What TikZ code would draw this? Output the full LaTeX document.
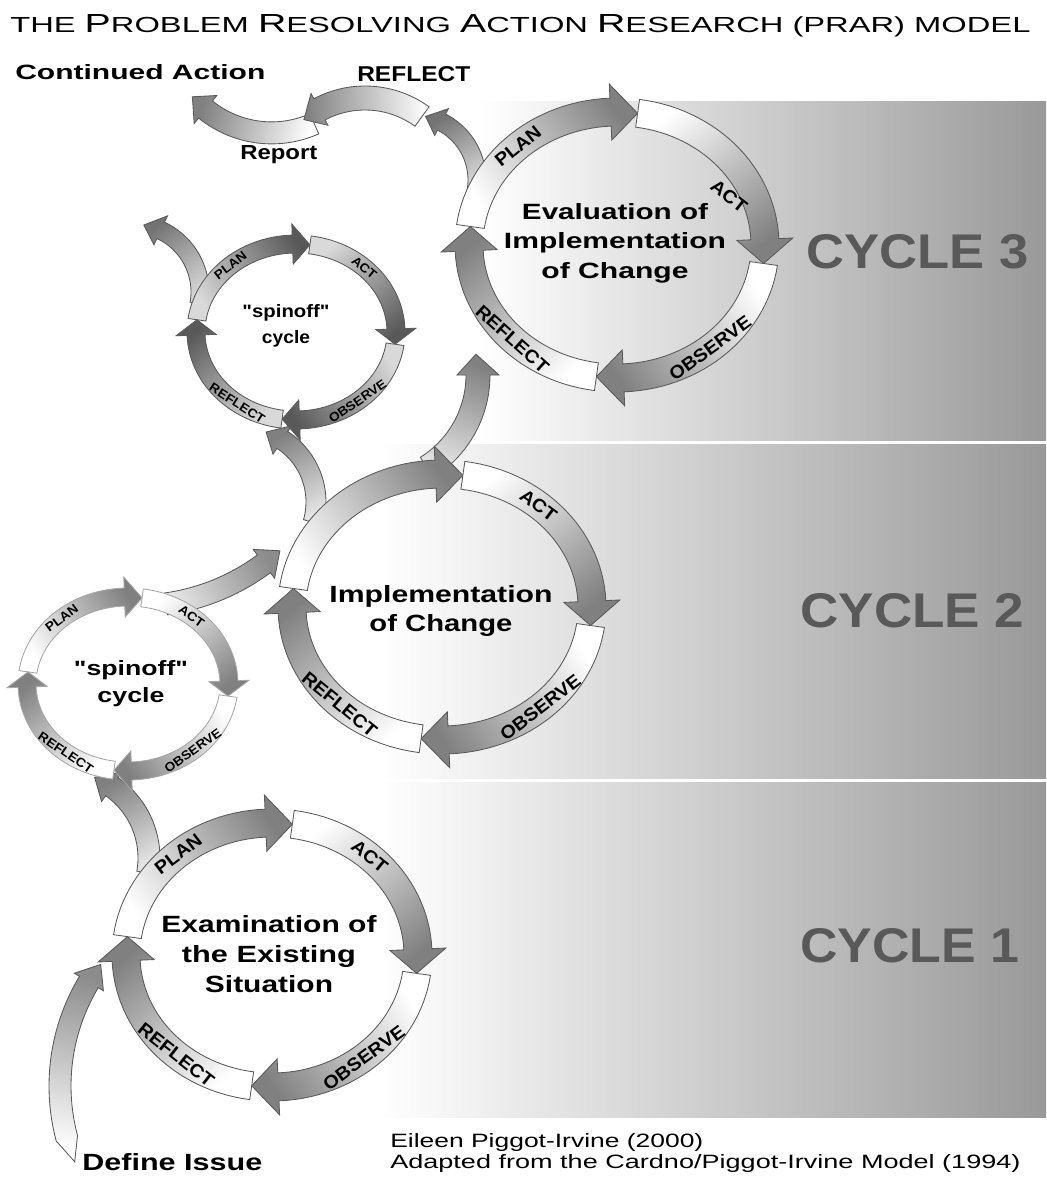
\documentclass[tikz,border=0pt]{standalone}
\usepackage{fontspec}
\setmainfont{Liberation Sans}[Ligatures=TeXOff]
\usepackage{graphicx}
\newlength\px
\setlength\px{0.7113pt}
\newcommand\fitline[3]{\resizebox{#1\px}{#2\px}{#3}}
\newcommand\bigc[1]{{\fontsize{18pt}{18pt}\selectfont #1}}
\def\bw{14}\def\hw{28}\def\hl{10.5}\def\edgecol{black!65}
\newcommand\ringarrow[9]{%
  \pgfmathsetmacro\sgn{(#6>#5)*2-1}%
  \pgfmathsetmacro\ae{#6-(\sgn)*\hl}%
  \pgfmathsetmacro\at{#5-(\sgn)*#7}%
  \pgfmathsetmacro\sa{atan2(-(#4)*(sin(#6)-sin(#5)),(#3)*(cos(#6)-cos(#5)))+90}%
  \shade[draw=\edgecol, line width=.6pt, top color=#8, bottom color=#9, shading angle=\sa]
    plot[domain=#5:\ae, samples=30] ({#1+(#3+\bw)*cos(\x)},{#2+(#4+\bw)*sin(\x)})
    -- ({#1+(#3+\hw)*cos(\ae)},{#2+(#4+\hw)*sin(\ae)})
    -- ({#1+#3*cos(#6)},{#2+#4*sin(#6)})
    -- ({#1+(#3-\hw)*cos(\ae)},{#2+(#4-\hw)*sin(\ae)})
    -- plot[domain=\ae:#5, samples=30] ({#1+(#3-\bw)*cos(\x)},{#2+(#4-\bw)*sin(\x)})
    -- ({#1+#3*cos(\at)},{#2+#4*sin(\at)}) -- cycle;}
\newcommand\fullcycle[6]{%
  \ringarrow{#1}{#2}{#3}{#4}{188}{278}{0}{#5}{#6}%
  \ringarrow{#1}{#2}{#3}{#4}{278}{368}{0}{#5}{#6}%
  \ringarrow{#1}{#2}{#3}{#4}{368}{458}{0}{#5}{#6}%
  \ringarrow{#1}{#2}{#3}{#4}{458}{548}{0}{#5}{#6}}
\newcommand\arclabel[7]{%
  \pgfmathsetmacro\rot{atan2(-(#4)*cos(#5),-(#3)*sin(#5))}%
  \pgfmathsetmacro\rot{\rot>90 ? \rot-180 : (\rot<-90 ? \rot+180 : \rot)}%
  \node[seglabel, rotate=\rot] (#7) at ({#1+#3*cos(#5)},{#2+#4*sin(#5)}) {\scalebox{1.08}[1]{#6}};}
\begin{document}
\begin{tikzpicture}[x=0.025cm, y=-0.025cm,
  seglabel/.style={inner sep=0, font=\fontsize{13pt}{13pt}\selectfont\bfseries},
  centretext/.style={anchor=north, inner sep=0, align=center},
  cyclename/.style={anchor=base west, inner sep=0, text=black!65, font=\bfseries},
  plain/.style={anchor=base west, inner sep=0}]
\useasboundingbox[fill=white] (0,0) rectangle (1046,1181);
\shade[left color=white, right color=black!40] (480,102) rectangle (1046,440);
\shade[left color=white, right color=black!40] (380,444) rectangle (1046,778);
\shade[left color=white, right color=black!40] (380,782) rectangle (1046,1117);

\def\bw{11}\def\hw{17}\def\hl{6}\ringarrow{262}{1086}{202}{202}{165}{217}{7}{white}{black!45}
\def\bw{11}\def\hw{18}\def\hl{13}\ringarrow{62}{858}{87}{87}{10}{-68}{0}{black!10}{black!50}
\def\bw{11}\def\hw{18}\def\hl{5.5}\ringarrow{136}{391}{215}{215}{82}{48}{0}{black!10}{black!45}
\def\bw{10}\def\hw{17}\def\hl{14}\ringarrow{242}{502}{74}{74}{16}{-71}{0}{black!10}{black!50}
\def\bw{12}\def\hw{21}\def\hl{11}\ringarrow{369}{375}{109}{109}{58}{-11}{0}{black!10}{black!50}
\def\bw{9}\def\hw{16}\def\hl{15}\ringarrow{132}{292}{68}{68}{10}{-80}{0}{black!15}{black!55}
\def\bw{9}\def\hw{15}\def\hl{15}\ringarrow{412}{180}{65}{65}{18}{-78}{0}{black!10}{black!55}
\def\bw{11}\def\hw{18}\def\hl{10}\ringarrow{271.6}{27.9}{105}{105}{66}{139}{0}{white}{black!50}
\def\bw{12}\def\hw{18}\def\hl{11}\ringarrow{365}{195}{97}{97}{306}{231}{0}{white}{black!50}

\def\bw{14}\def\hw{28}\def\hl{10.5}
\fullcycle{272}{955}{146}{132}{white}{black!50}
\fullcycle{442}{607}{150}{133}{white}{black!50}
\fullcycle{617}{245}{148}{133}{white}{black!50}
\def\bw{9}\def\hw{20}\def\hl{10}
\fullcycle{296}{332}{100}{88}{black!15}{black!65}
\def\edgecol{black!35}
\fullcycle{128}{684}{101}{87}{white}{black!50}

\arclabel{272}{955}{146}{132}{230}{PLAN}{plana}
\arclabel{272}{955}{146}{132}{312}{ACT}{acta}
\arclabel{272}{955}{146}{132}{411}{OBSERVE}{observea}
\arclabel{272}{955}{146}{132}{491}{REFLECT}{reflecta}
\arclabel{442}{607}{150}{133}{310}{ACT}{actb}
\arclabel{442}{607}{150}{133}{409}{OBSERVE}{observeb}
\arclabel{442}{607}{150}{133}{493}{REFLECT}{reflectb}
\arclabel{617}{245}{148}{133}{228}{PLAN}{planc}
\node[seglabel, rotate=-38] (actc) at (729,196) {\scalebox{1.08}[1]{ACT}};
\arclabel{617}{245}{148}{133}{411}{OBSERVE}{observec}
\arclabel{617}{245}{148}{133}{495}{REFLECT}{reflectc}
\begin{scope}[seglabel/.append style={font=\fontsize{9pt}{9pt}\selectfont\bfseries}]
\arclabel{296}{332}{100}{88}{229}{PLAN}{planup}
\arclabel{296}{332}{100}{88}{313}{ACT}{actup}
\arclabel{296}{332}{100}{88}{412}{OBSERVE}{observeup}
\arclabel{296}{332}{100}{88}{486}{REFLECT}{reflectup}
\arclabel{128}{684}{101}{87}{229}{PLAN}{planlow}
\arclabel{128}{684}{101}{87}{309}{ACT}{actlow}
\arclabel{128}{684}{101}{87}{410}{OBSERVE}{observelow}
\arclabel{128}{684}{101}{87}{488}{REFLECT}{reflectlow}
\end{scope}

\node[centretext, font=\fontsize{17pt}{21.3pt}\selectfont\bfseries] (examine) at (269,915)
  {\fitline{215}{17}{Examination of}\\\fitline{174}{17}{the Existing}\\\fitline{128}{17}{Situation}};
\node[centretext, font=\fontsize{17pt}{20.6pt}\selectfont\bfseries] (implement) at (441,585)
  {\fitline{223}{17}{Implementation}\\\fitline{143}{17}{of Change}};
\node[centretext, font=\fontsize{16pt}{21pt}\selectfont\bfseries] (evaluate) at (615,203)
  {\fitline{186}{16}{Evaluation of}\\\fitline{222}{16}{Implementation}\\\fitline{147}{16}{of Change}};
\node[centretext, font=\fontsize{13pt}{18.5pt}\selectfont\bfseries] (spinup) at (286,304)
  {\fitline{87}{13}{"spinoff"}\\\fitline{48}{13}{cycle}};
\node[centretext, font=\fontsize{15pt}{19.2pt}\selectfont\bfseries] (spinlow) at (131,660)
  {\fitline{114}{15}{"spinoff"}\\\fitline{67}{15}{cycle}};

\node[cyclename] (cyclec) at (806,269) {\fitline{222}{34}{CYCLE 3}};
\node[cyclename] (cycleb) at (800,627) {\fitline{224}{34}{CYCLE 2}};
\node[cyclename] (cyclea) at (800,962) {\fitline{219}{34}{CYCLE 1}};

\node[plain, font=\fontsize{15pt}{15pt}\selectfont] (title) at (10,33) {\fitline{1020}{18}{THE \bigc{P}ROBLEM \bigc{R}ESOLVING \bigc{A}CTION \bigc{R}ESEARCH (PRAR) MODEL}};
\node[plain, font=\bfseries] (continued) at (15,80) {\fitline{250}{15}{Continued Action}};
\node[plain, font=\bfseries] (reflecttop) at (357,82) {\fitline{113}{15}{REFLECT}};
\node[plain, font=\bfseries] (report) at (240,160) {\fitline{77}{14}{Report}};
\node[plain, font=\bfseries] (define) at (82,1170) {\fitline{180}{17}{Define Issue}};
\node[plain] (authora) at (390,1147) {\fitline{313}{14}{Eileen Piggot-Irvine (2000)}};
\node[plain] (authorb) at (390,1168) {\fitline{630}{14}{Adapted from the Cardno/Piggot-Irvine Model (1994)}};
\end{tikzpicture}
\end{document}
